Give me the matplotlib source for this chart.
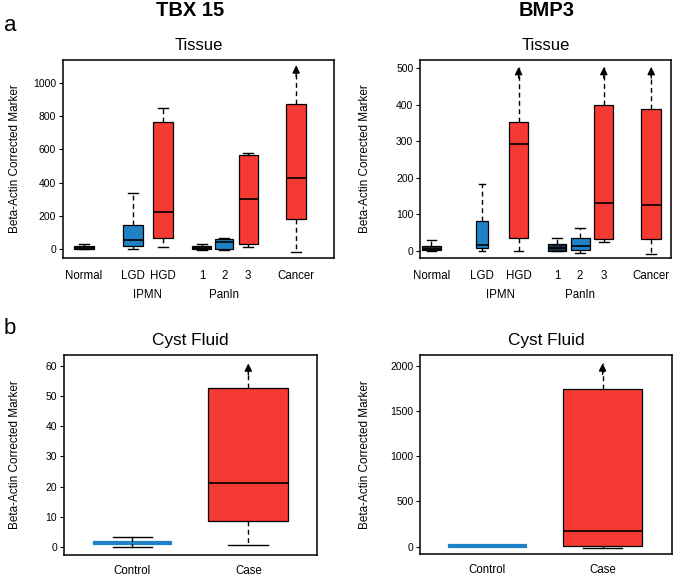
import matplotlib
matplotlib.use('Agg')
import matplotlib.pyplot as plt
from matplotlib.transforms import blended_transform_factory

plt.rcParams['font.family'] = ['Liberation Sans', 'DejaVu Sans']

RED = '#f43a32'
BLUE = '#1f82c6'
NAVY = '#1c2c46'

# ---- tissue panels: Normal, LGD, HGD, PanIn 1, 2, 3, Cancer
tissue_labels = ['Normal', 'LGD', 'HGD', '1', '2', '3', 'Cancer']
tissue_colors = [NAVY, BLUE, RED, NAVY, BLUE, RED, RED]

# TBX 15 (low whisker, q1, median, q3, high whisker); arrow = whisker goes off the top
tbx_low = [0, 0, 14, -8, -6, 14, -16]
tbx_q1 = [0, 18, 68, -3, -3, 28, 180]
tbx_med = [8, 54, 223, 8, 40, 300, 430]
tbx_q3 = [18, 145, 767, 15, 62, 566, 877]
tbx_high = [32, 335, 851, 30, 65, 580, 1108]
tbx_arrow = [False, False, False, False, False, False, True]

# BMP3
bmp_low = [-1, 0, 0, -1, -5, 25, -9]
bmp_q1 = [2, 7, 36, 0, 2, 31, 31]
bmp_med = [6, 16, 294, 7, 13, 132, 125]
bmp_q3 = [13, 82, 354, 18, 36, 401, 389]
bmp_high = [29, 182, 504, 35, 61, 504, 504]
bmp_arrow = [False, False, True, False, False, True, True]

# ---- cyst fluid panels: Control, Case
cyst_labels = ['Control', 'Case']
cyst_colors = [BLUE, RED]

tbx_cf_low = [0, 0.6]
tbx_cf_q1 = [0.8, 8.6]
tbx_cf_med = [1.3, 21.2]
tbx_cf_q3 = [1.8, 52.8]
tbx_cf_high = [3.1, 60.9]
tbx_cf_arrow = [False, True]

bmp_cf_low = [-5, -18]
bmp_cf_q1 = [-5, 8]
bmp_cf_med = [10, 177]
bmp_cf_q3 = [28, 1739]
bmp_cf_high = [28, 2026]
bmp_cf_arrow = [False, True]


def draw(ax, low, q1, med, q3, high, arrow, colors, pos, widths, flat=()):
    stats = []
    for i in range(len(low)):
        stats.append({'whislo': low[i], 'q1': q1[i], 'med': med[i],
                      'q3': q3[i], 'whishi': high[i], 'fliers': []})
    caps = [w * 0.5 for w in widths]
    res = ax.bxp(stats, positions=pos, widths=widths, capwidths=caps,
                 patch_artist=True, showfliers=False, manage_ticks=False,
                 boxprops=dict(edgecolor='black', linewidth=0.9),
                 medianprops=dict(color='black', linewidth=1.2),
                 whiskerprops=dict(color='black', linewidth=1.0, linestyle=(0, (3.5, 2.5))),
                 capprops=dict(color='black', linewidth=1.0))
    for i, b in enumerate(res['boxes']):
        b.set_facecolor(colors[i])
        if i in flat:
            # squashed box: only a coloured bar shows
            b.set_edgecolor(colors[i])
            res['medians'][i].set_color(colors[i])
            res['whiskers'][2 * i].set_linestyle('-')
            res['whiskers'][2 * i + 1].set_linestyle('-')
        if arrow[i]:
            res['caps'][2 * i + 1].set_visible(False)
            ax.annotate('', xy=(pos[i], high[i]), xytext=(0, -8), textcoords='offset points',
                        arrowprops=dict(arrowstyle='-|>', color='black', lw=1.0,
                                        mutation_scale=11, shrinkA=0, shrinkB=0))
    return res


def style(ax, ylim, yticks):
    ax.set_ylim(ylim)
    ax.set_yticks(yticks)
    for s in ax.spines.values():
        s.set_linewidth(1.1)
    ax.tick_params(axis='y', labelsize=7.5, length=3, width=0.8, pad=2)
    ax.tick_params(axis='x', labelsize=8.3, length=0)


fig = plt.figure(figsize=(6.74, 5.77), dpi=100)

# top left: TBX 15 tissue
ax1 = fig.add_axes([0.0935, 0.5529, 0.402, 0.343])
pos1 = [1, 2.63, 3.63, 4.93, 5.67, 6.47, 8.07]
draw(ax1, tbx_low, tbx_q1, tbx_med, tbx_q3, tbx_high, tbx_arrow, tissue_colors,
     pos1, [0.67, 0.65, 0.65, 0.63, 0.62, 0.63, 0.68])
ax1.set_xlim(0.3, 9.33)
style(ax1, (-55, 1140), [0, 200, 400, 600, 800, 1000])

# top right: BMP3 tissue
ax2 = fig.add_axes([0.6236, 0.5529, 0.3724, 0.343])
pos2 = [1, 2.69, 3.91, 5.19, 5.96, 6.75, 8.33]
draw(ax2, bmp_low, bmp_q1, bmp_med, bmp_q3, bmp_high, bmp_arrow, tissue_colors,
     pos2, [0.63, 0.42, 0.63, 0.63, 0.63, 0.63, 0.66])
ax2.set_xlim(0.633, 9.0)
style(ax2, (-20, 523), [0, 100, 200, 300, 400, 500])

for ax, pos in [(ax1, pos1), (ax2, pos2)]:
    ax.set_xticks(pos)
    ax.set_xticklabels(tissue_labels)
    ax.tick_params(axis='x', pad=9)
    ax.set_title('Tissue', fontsize=12, pad=7)
    tr = blended_transform_factory(ax.transData, ax.transAxes)
    ax.text((pos[1] + pos[2]) / 2, -0.187, 'IPMN', transform=tr, ha='center', va='center', fontsize=8.3)
    ax.text(pos[4], -0.187, 'PanIn', transform=tr, ha='center', va='center', fontsize=8.3)

# bottom left: TBX 15 cyst fluid
ax3 = fig.add_axes([0.095, 0.0381, 0.3758, 0.3466])
draw(ax3, tbx_cf_low, tbx_cf_q1, tbx_cf_med, tbx_cf_q3, tbx_cf_high, tbx_cf_arrow, cyst_colors,
     [1, 2], [0.67, 0.69], flat=(0,))
ax3.set_xlim(0.411, 2.595)
style(ax3, (-2.76, 63.7), [0, 10, 20, 30, 40, 50, 60])

# bottom right: BMP3 cyst fluid
ax4 = fig.add_axes([0.6236, 0.0393, 0.3734, 0.3454])
r4 = draw(ax4, bmp_cf_low, bmp_cf_q1, bmp_cf_med, bmp_cf_q3, bmp_cf_high, bmp_cf_arrow, cyst_colors,
          [1, 2], [0.68, 0.68], flat=(0,))
r4['caps'][0].set_visible(False)
r4['caps'][1].set_visible(False)
ax4.set_xlim(0.424, 2.6)
style(ax4, (-84, 2118), [0, 500, 1000, 1500, 2000])

for ax in [ax3, ax4]:
    ax.set_xticks([1, 2])
    ax.set_xticklabels(cyst_labels)
    ax.tick_params(axis='x', pad=7)
    ax.set_title('Cyst Fluid', fontsize=12.4, pad=7)

# y labels
for x, ax in [(15, ax1), (365, ax2), (15, ax3), (365, ax4)]:
    b = ax.get_position()
    fig.text(x / 674, (b.y0 + b.y1) / 2, 'Beta-Actin Corrected Marker', rotation=90,
             ha='center', va='center', fontsize=8.5)

fig.text(190 / 674, 0.981, 'TBX 15', ha='center', va='center', fontsize=14.5, fontweight='bold')
fig.text(547 / 674, 0.981, 'BMP3', ha='center', va='center', fontsize=14.5, fontweight='bold')
fig.text(0.015, 0.955, 'a', ha='center', va='center', fontsize=16)
fig.text(0.015, 0.43, 'b', ha='center', va='center', fontsize=16)

fig.savefig('out.png', dpi=100)
